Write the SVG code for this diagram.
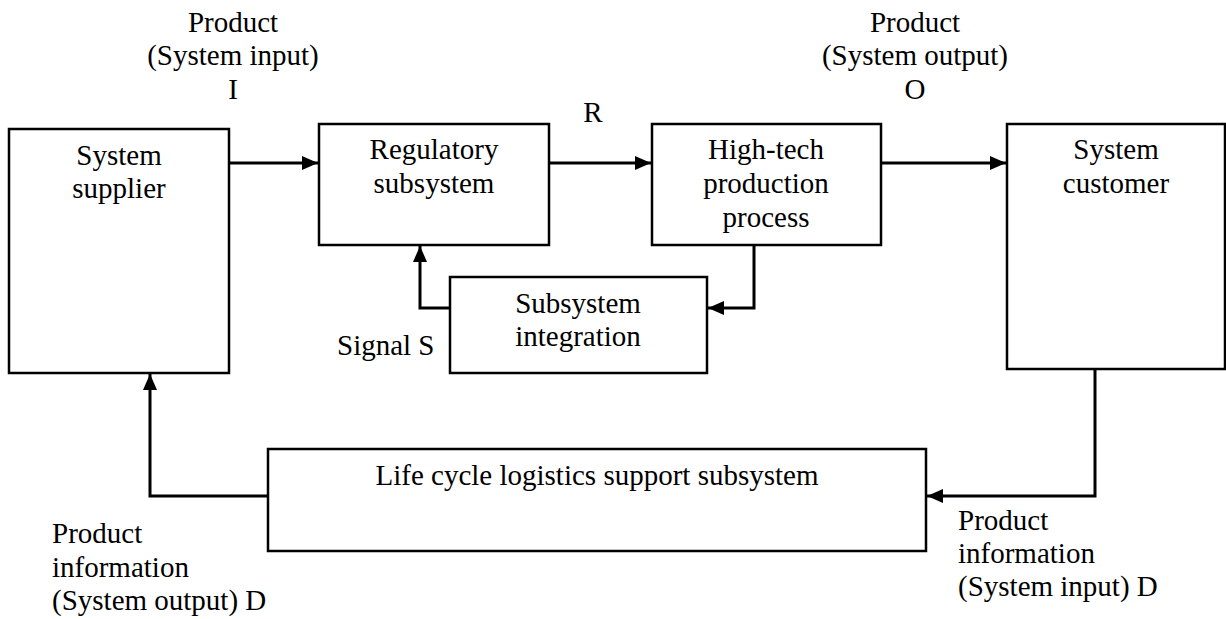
<svg xmlns="http://www.w3.org/2000/svg" width="1226" height="619" viewBox="0 0 1226 619">
<style>
.box{fill:#fff;stroke:#000;stroke-width:2.5}
.t{font-family:"Liberation Serif","Times New Roman",serif;font-size:29px;fill:#000}
.c{text-anchor:middle}
.con{fill:none;stroke:#000;stroke-width:3;marker-end:url(#ah)}
</style>
<defs>
<marker id="ah" markerUnits="userSpaceOnUse" markerWidth="16" markerHeight="14" refX="16" refY="7" orient="auto">
<path d="M0,0 L16,7 L0,14 z" fill="#000"/>
</marker>
</defs>
<rect width="1226" height="619" fill="#fff"/>
<g id="connectors">
<path class="con" d="M229,163 H318"/>
<path class="con" d="M549,163 H651"/>
<path class="con" d="M881,163 H1006"/>
<path class="con" d="M754,245 V308 H708"/>
<path class="con" d="M450,308 H420 V246"/>
<path class="con" d="M1095,369 V496 H927"/>
<path class="con" d="M268,496 H150 V374"/>
</g>
<g id="supplier">
<rect class="box" x="9" y="129" width="220" height="244"/>
<text class="t c" x="119" y="165">System</text>
<text class="t c" x="119" y="198">supplier</text>
</g>
<g id="regulatory">
<rect class="box" x="319" y="124" width="230" height="121"/>
<text class="t c" x="434" y="159">Regulatory</text>
<text class="t c" x="434" y="193">subsystem</text>
</g>
<g id="hightech">
<rect class="box" x="652" y="124" width="229" height="121"/>
<text class="t c" x="766" y="159">High-tech</text>
<text class="t c" x="766" y="193">production</text>
<text class="t c" x="766" y="227">process</text>
</g>
<g id="customer">
<rect class="box" x="1007" y="124" width="218" height="245"/>
<text class="t c" x="1116" y="159">System</text>
<text class="t c" x="1116" y="193">customer</text>
</g>
<g id="integration">
<rect class="box" x="450" y="277" width="257" height="96"/>
<text class="t c" x="578" y="313">Subsystem</text>
<text class="t c" x="578" y="346">integration</text>
</g>
<g id="lifecycle">
<rect class="box" x="268" y="449" width="658" height="102"/>
<text class="t c" x="597" y="485">Life cycle logistics support subsystem</text>
</g>
<g id="labels">
<text class="t c" x="233" y="32">Product</text>
<text class="t c" x="233" y="65">(System input)</text>
<text class="t c" x="233" y="99">I</text>
<text class="t c" x="915" y="32">Product</text>
<text class="t c" x="915" y="65">(System output)</text>
<text class="t c" x="915" y="99">O</text>
<text class="t c" x="593" y="122">R</text>
<text class="t" x="337" y="355">Signal S</text>
<text class="t" x="52" y="543">Product</text>
<text class="t" x="52" y="577">information</text>
<text class="t" x="52" y="610">(System output) D</text>
<text class="t" x="958" y="530">Product</text>
<text class="t" x="958" y="563">information</text>
<text class="t" x="958" y="596">(System input) D</text>
</g>
</svg>
